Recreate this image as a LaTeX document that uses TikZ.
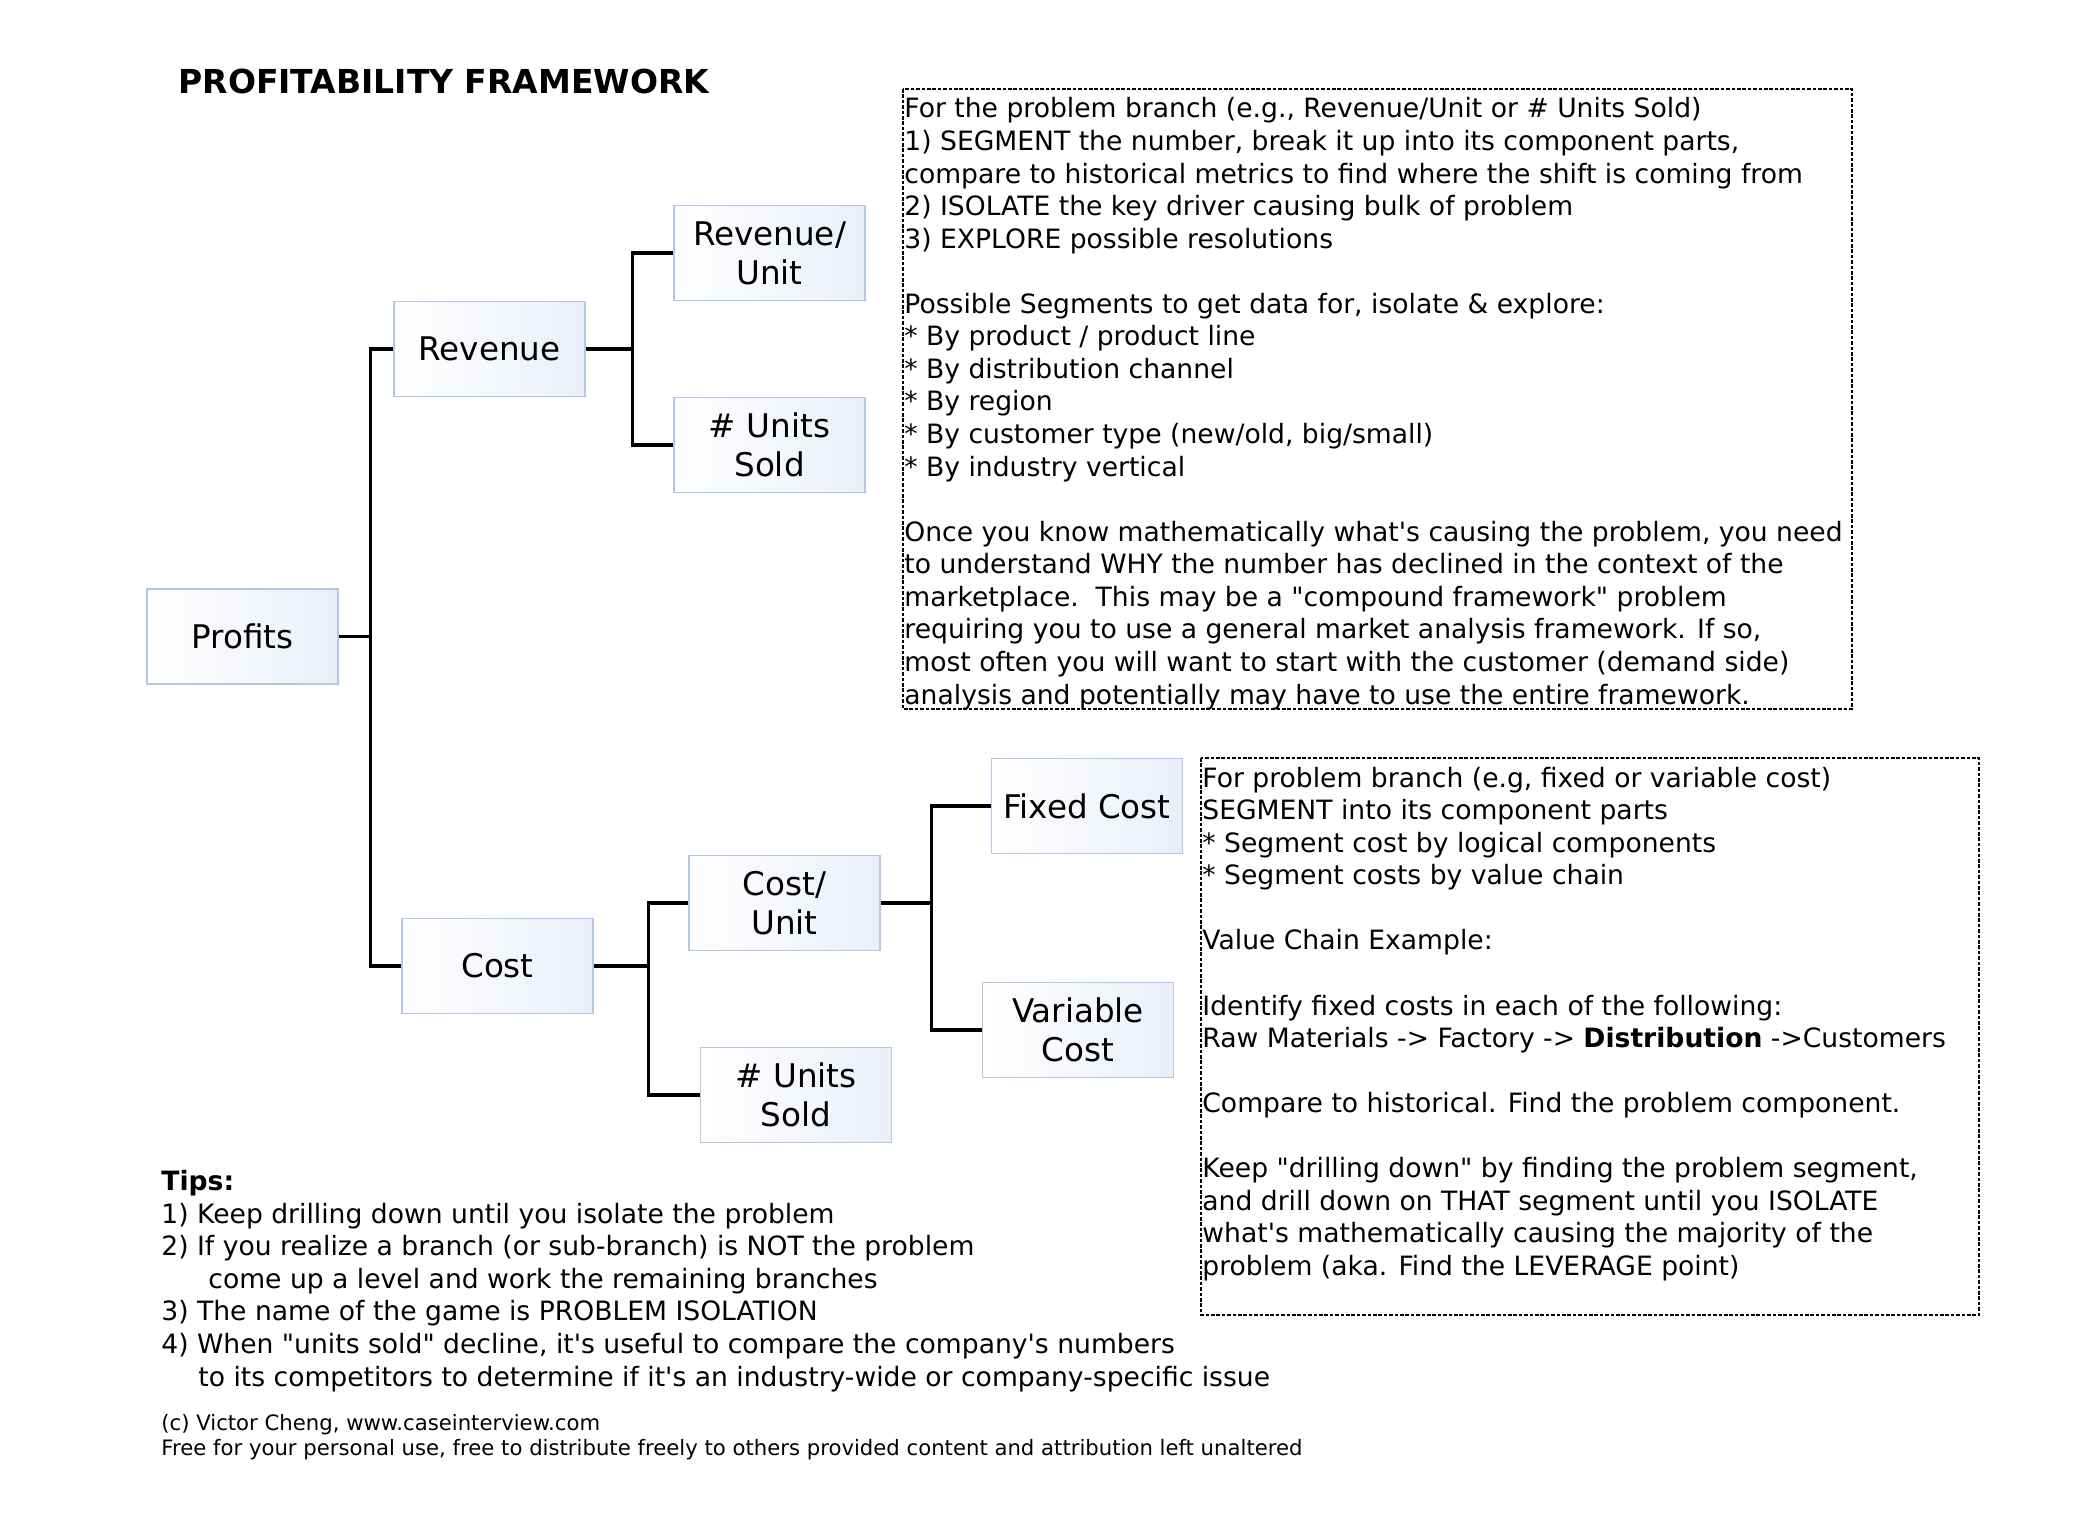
\documentclass[tikz,border=0pt]{standalone}
\usepackage{fontspec}
\setmainfont{DejaVu Sans}[Ligatures=TeXOff]
\definecolor{boxline}{RGB}{180,199,231}
\definecolor{boxfill}{RGB}{234,239,248}
\newcommand{\notefont}{\fontsize{13.3}{16.28}\selectfont}
\begin{document}
\begin{tikzpicture}[x=0.5pt,y=-0.5pt,
    branch/.style={draw=boxline, line width=0.6pt, left color=white, right color=boxfill,
        minimum width=95.5pt, minimum height=47.5pt, inner sep=0pt, align=center,
        font=\fontsize{16.3}{19.5}\selectfont},
    link/.style={line width=1.6pt},
    note/.style={line width=0.6pt, dash pattern=on 1.8pt off 0.9pt},
    notetext/.style={anchor=base west, inner sep=0pt, align=left, font=\notefont}]
\useasboundingbox (0,0) rectangle (2074,1522);

\node[anchor=base west, inner sep=0pt, font=\bfseries\fontsize{16.5}{18}\selectfont] (title) at (178,93) {PROFITABILITY FRAMEWORK};

\node[branch] (profits) at (242.5,636.5) {Profits};
\node[branch] (revenue) at (489.5,349) {Revenue};
\node[branch] (revunit) at (769.5,253) {Revenue/\\Unit};
\node[branch] (revsold) at (769.5,445) {\# Units\\Sold};
\node[branch] (cost) at (497.5,966) {Cost};
\node[branch] (costunit) at (784.5,903) {Cost/\\Unit};
\node[branch] (costsold) at (796,1095) {\# Units\\Sold};
\node[branch] (fixed) at (1087,806) {Fixed Cost};
\node[branch] (variable) at (1078,1030) {Variable\\Cost};

\coordinate (pj) at ([xshift=16pt]profits.east);
\coordinate (rj) at ([xshift=23.5pt]revenue.east);
\coordinate (cj) at ([xshift=27.5pt]cost.east);
\coordinate (fj) at ([xshift=25.5pt]costunit.east);
\draw[link] (profits.east) -- (pj);
\draw[link] (revenue.west) -| (pj) |- (cost.west);
\draw[link] (revenue.east) -- (rj);
\draw[link] (revunit.west) -| (rj) |- (revsold.west);
\draw[link] (cost.east) -- (cj);
\draw[link] (costunit.west) -| (cj) |- (costsold.west);
\draw[link] (costunit.east) -- (fj);
\draw[link] (fixed.west) -| (fj) |- (variable.west);

\draw[note] (903,89) rectangle (1852,709);
\node[notetext] (revnote) at (904,704) {For the problem branch (e.g., Revenue/Unit or \# Units Sold)\\
1) SEGMENT the number, break it up into its component parts,\\
compare to historical metrics to find where the shift is coming from\\
2) ISOLATE the key driver causing bulk of problem\\
3) EXPLORE possible resolutions\\[16.28pt]
Possible Segments to get data for, isolate \& explore:\\
{*} By product / product line\\
{*} By distribution channel\\
{*} By region\\
{*} By customer type (new/old, big/small)\\
{*} By industry vertical\\[16.28pt]
Once you know mathematically what's causing the problem, you need\\
to understand WHY the number has declined in the context of the\\
marketplace.\ \ This may be a "compound framework" problem\\
requiring you to use a general market analysis framework. If so,\\
most often you will want to start with the customer (demand side)\\
analysis and potentially may have to use the entire framework.};

\draw[note] (1201,758) rectangle (1979,1315);
\node[notetext] (costnote) at (1202,1275.5) {For problem branch (e.g, fixed or variable cost)\\
SEGMENT into its component parts\\
{*} Segment cost by logical components\\
{*} Segment costs by value chain\\[16.28pt]
Value Chain Example:\\[16.28pt]
Identify fixed costs in each of the following:\\
Raw Materials -> Factory -> \textbf{Distribution} ->Customers\\[16.28pt]
Compare to historical. Find the problem component.\\[16.28pt]
Keep "drilling down" by finding the problem segment,\\
and drill down on THAT segment until you ISOLATE\\
what's mathematically causing the majority of the\\
problem (aka. Find the LEVERAGE point)};

\node[notetext] (tips) at (161,1386) {\textbf{Tips:}\\
1) Keep drilling down until you isolate the problem\\
2) If you realize a branch (or sub-branch) is NOT the problem\\
\hspace*{23.5pt}come up a level and work the remaining branches\\
3) The name of the game is PROBLEM ISOLATION\\
4) When "units sold" decline, it's useful to compare the company's numbers\\
\hspace*{18.5pt}to its competitors to determine if it's an industry-wide or company-specific issue};

\node[notetext, font=\fontsize{10.6}{12.5}\selectfont] (credit) at (161,1455) {(c) Victor Cheng, www.caseinterview.com\\
Free for your personal use, free to distribute freely to others provided content and attribution left unaltered};
\end{tikzpicture}
\end{document}
